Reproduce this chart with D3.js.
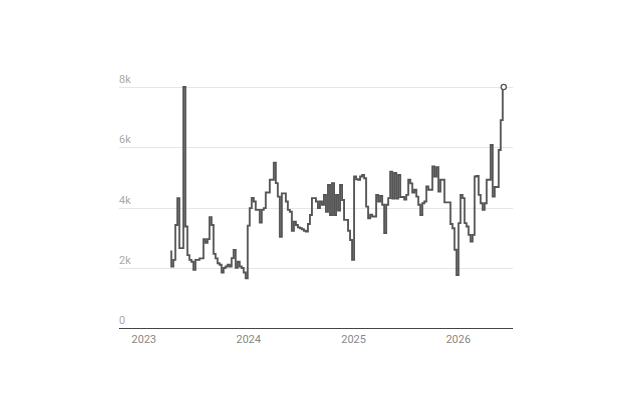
<!DOCTYPE html>
<html>
<head>
<meta charset="utf-8">
<script src="https://cdn.jsdelivr.net/npm/d3@7"></script>
<style>
  html, body { margin: 0; padding: 0; background: #fff; }
  svg { display: block; font-family: Roboto, "Noto Sans", sans-serif; }
</style>
</head>
<body>
<svg id="chart" width="624" height="416"></svg>
<script>
// ---- data ----
const startDate = "2023-04-05";          // first weekly observation
const weeklyValues = [
  2540,2040,2260,3420,4310,2650,2650,8000,3370,2420,
  2260,2200,1930,2260,2260,2310,2310,2950,2830,2950,
  3680,3420,2460,2310,2150,2100,1840,1990,2040,2100,
  2040,2320,2590,2000,2200,2040,1990,1840,1650,3400,
  3980,4320,4200,3920,3920,3500,3920,3980,4500,4500,
  4920,4920,5490,4810,4360,3030,4470,4470,4200,3920,
  3860,3230,3530,3420,3340,3310,3280,3230,3200,3450,
  3750,4310,4310,4200,3980,4200,4090,4420,3860,4750,
  3750,4810,3750,4420,3900,4750,4250,3590,3590,3230,
  2920,2260,5030,4940,4920,5030,5080,4970,4030,3640,
  3760,3700,3700,4420,4200,4380,4090,3150,4090,4310,
  5190,4300,5150,4300,5080,4350,4350,4260,4420,4920,
  4800,4500,4590,4360,4090,3750,4140,4200,4700,4590,
  4590,5360,5030,5340,4530,4920,4920,4170,4170,4170,
  3450,3310,2600,1760,3480,4420,4310,3480,3370,3090,
  2870,3090,5030,5050,4420,4140,3920,4140,4920,4920,
  6080,4360,4680,4680,5910,6900,8000
];
const yTickValues = [0, 2000, 4000, 6000, 8000];
const yTickLabels = ["0", "2k", "4k", "6k", "8k"];
const xTickLabels = ["2023", "2024", "2025", "2026"];

// ---- build ----
const parse = d3.utcParse("%Y-%m-%d");
const t0 = parse(startDate);
const data = weeklyValues.map((v, i) => ({ date: d3.utcDay.offset(t0, 7 * i), value: v }));
const yearDates = xTickLabels.map(y => parse(y + "-01-01"));

const svg = d3.select("#chart");
const gridLeft = 119, gridRight = 513;

const x = d3.scaleUtc()
  .domain([yearDates[0], yearDates[yearDates.length - 1]])
  .range([143.4, 457.8]);
const y = d3.scaleLinear().domain([0, 8000]).range([328, 87]);

// gridlines + y labels
const yg = svg.append("g");
yg.selectAll("line").data(yTickValues.slice(1)).join("line")
  .attr("x1", gridLeft).attr("x2", gridRight)
  .attr("y1", d => Math.round(y(d)) + 0.5).attr("y2", d => Math.round(y(d)) + 0.5)
  .attr("stroke", "#e6e6e6").attr("stroke-width", 1);
yg.selectAll("text").data(yTickValues).join("text")
  .attr("x", gridLeft).attr("y", d => y(d) - 4)
  .attr("font-size", 11).attr("fill", "#aaaaaa")
  .text((d, i) => yTickLabels[i]);

// x axis
const xAxis = d3.axisBottom(x).tickValues(yearDates).tickSize(0).tickFormat((d, i) => xTickLabels[i]);
const xg = svg.append("g").attr("transform", "translate(0,328)").call(xAxis);
xg.select(".domain").remove();
xg.selectAll("text").attr("font-size", 11).attr("fill", "#888").attr("font-family", "Roboto, sans-serif").attr("dy", "1.1em").attr("y", 3);
svg.append("line")
  .attr("x1", gridLeft).attr("x2", gridRight).attr("y1", 328.5).attr("y2", 328.5)
  .attr("stroke", "#444").attr("stroke-width", 1.2);

// line
const line = d3.line().x(d => x(d.date)).y(d => y(d.value)).curve(d3.curveStep);
svg.append("path").datum(data)
  .attr("d", line)
  .attr("fill", "none").attr("stroke", "#555").attr("stroke-width", 1.9)
  .attr("stroke-linejoin", "miter");

// end marker
const last = data[data.length - 1];
svg.append("circle")
  .attr("cx", x(last.date)).attr("cy", y(last.value)).attr("r", 2.6)
  .attr("fill", "#fff").attr("stroke", "#555").attr("stroke-width", 1.3);
</script>
</body>
</html>
